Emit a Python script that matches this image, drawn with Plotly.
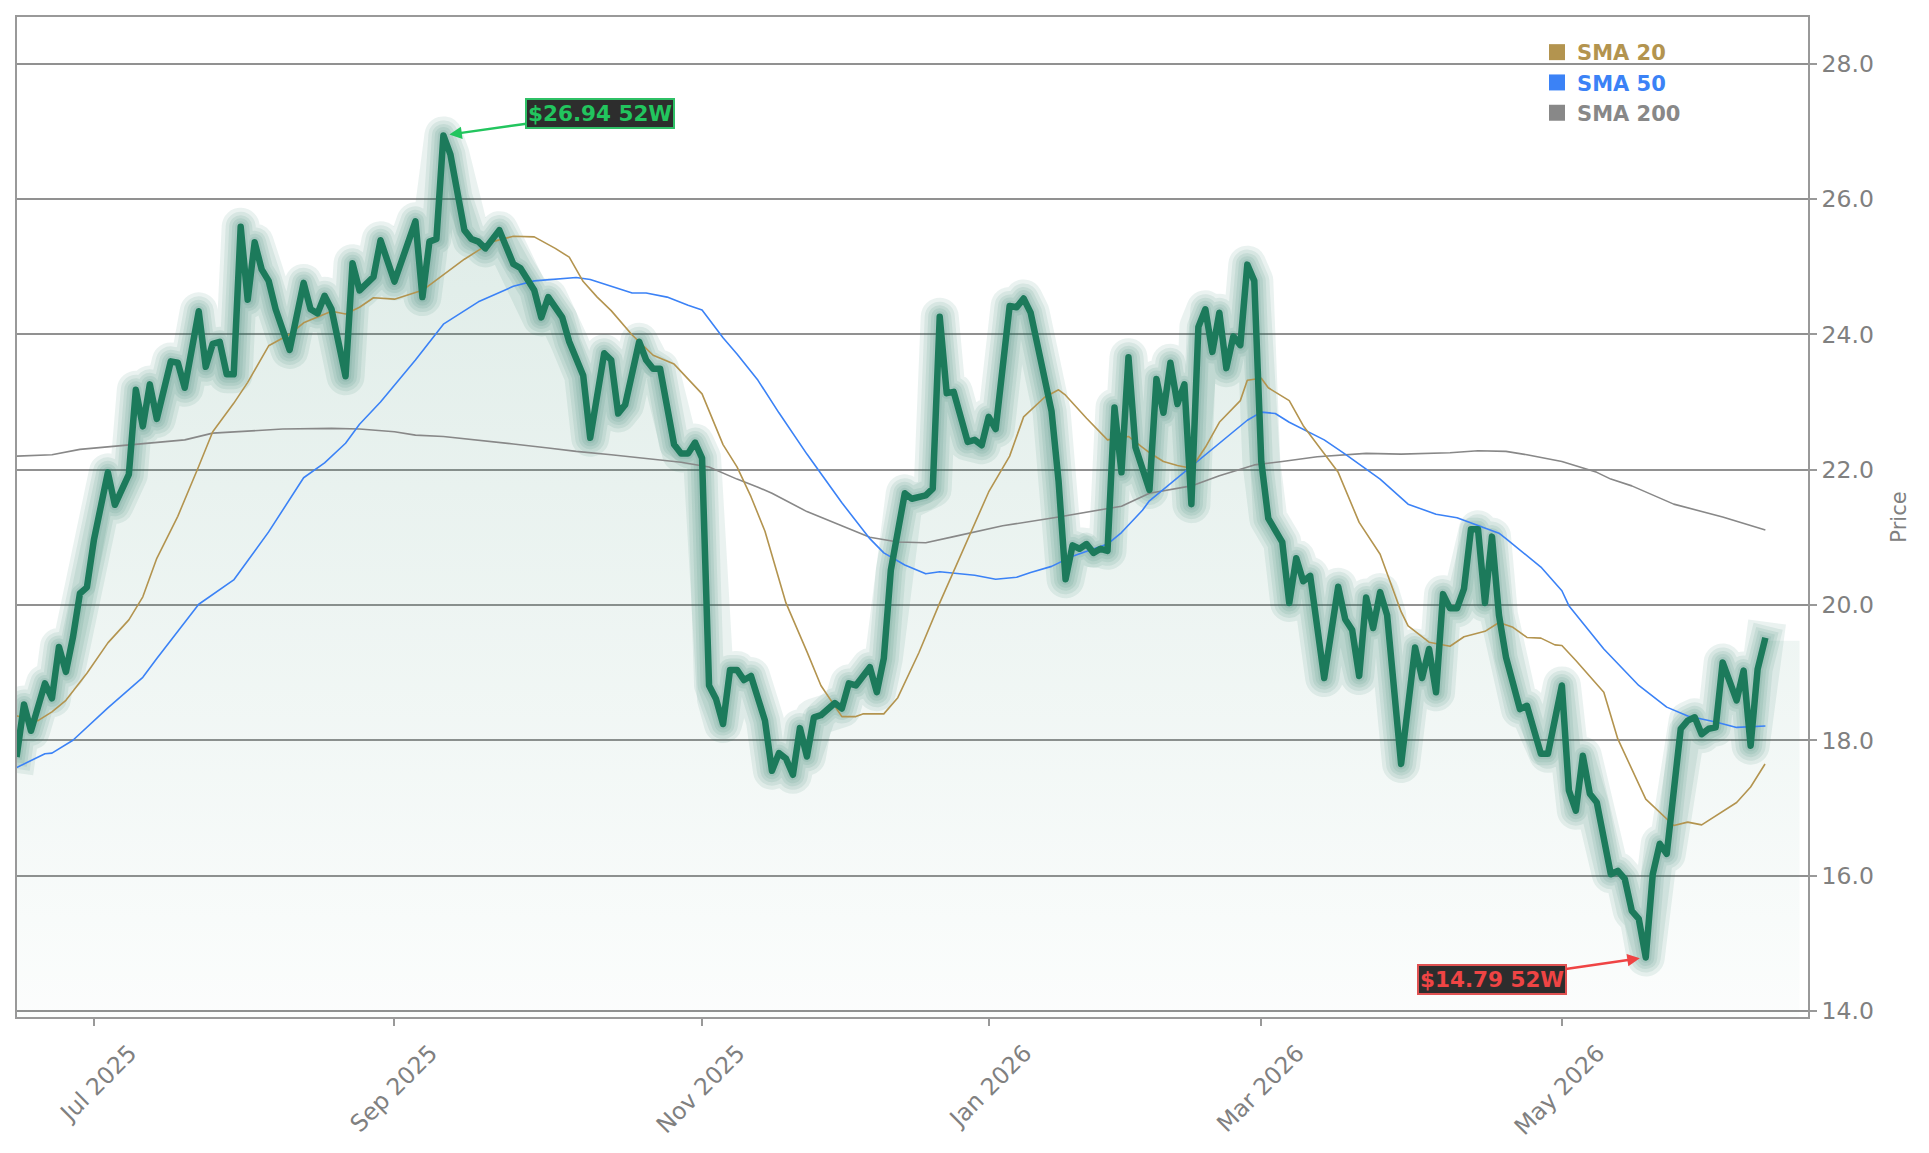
import pandas as pd
import plotly.graph_objects as go

# ---------------- trading calendar (NYSE sessions) ----------------
holidays = ["2025-06-19", "2025-07-04", "2025-09-01", "2025-11-27", "2025-12-25",
            "2026-01-01", "2026-01-19", "2026-02-16", "2026-04-03", "2026-05-25",
            "2026-06-19"]
sessions = pd.bdate_range("2025-06-13", "2026-06-30")
sessions = sessions[~sessions.isin(pd.to_datetime(holidays))]
base = sessions.get_loc(pd.Timestamp("2025-07-01"))

def to_dates(offsets):
    return [sessions[base + o] for o in offsets]

# ---------------- data (session offset from 2025-07-01) ----------------
price_sess = [-11, -10, -9, -7, -6, -5, -4, -3, -2, -1, 0, 2, 3, 5, 6, 7, 8, 9, 11, 12, 13, 15, 16, 17, 18,
              19, 20, 21, 22, 23, 24, 25, 26, 28, 30, 31, 32, 33, 34, 36, 37, 38, 40, 41, 43, 46, 47, 48,
              49, 50, 51, 52, 53, 54, 55, 56, 58, 60, 61, 63, 64, 65, 67, 68, 70, 71, 73, 74, 75, 76, 78,
              79, 80, 81, 83, 84, 85, 86, 87, 88, 89, 90, 91, 92, 93, 94, 96, 97, 98, 99, 100, 101, 102,
              103, 104, 106, 107, 108, 109, 111, 112, 113, 114, 116, 117, 119, 120, 121, 122, 123, 125,
              126, 127, 128, 129, 131, 132, 133, 134, 137, 138, 139, 140, 141, 142, 143, 144, 145, 146,
              147, 148, 149, 151, 152, 153, 154, 155, 156, 157, 158, 159, 160, 161, 162, 163, 164, 165,
              166, 167, 168, 170, 171, 172, 173, 174, 176, 178, 179, 180, 181, 182, 183, 184, 185, 187,
              189, 190, 191, 192, 193, 194, 195, 196, 197, 198, 199, 200, 201, 202, 204, 205, 207, 208,
              210, 211, 212, 213, 214, 215, 217, 218, 219, 220, 221, 222, 223, 224, 225, 226, 227, 228,
              229, 230, 231, 232, 233, 235, 236, 237, 238, 239]
price_val = [17.80, 18.53, 18.14, 18.84, 18.62, 19.38, 19.01, 19.52, 20.17, 20.26, 20.96, 21.96, 21.48,
             21.93, 23.18, 22.64, 23.26, 22.75, 23.60, 23.58, 23.21, 24.34, 23.52, 23.86, 23.89, 23.41,
             23.41, 25.59, 24.51, 25.36, 24.96, 24.79, 24.37, 23.77, 24.76, 24.37, 24.31, 24.57, 24.37,
             23.38, 25.05, 24.65, 24.85, 25.39, 24.78, 25.67, 24.55, 25.37, 25.41, 26.94, 26.66, 26.03,
             25.54, 25.41, 25.37, 25.27, 25.54, 25.04, 24.98, 24.65, 24.25, 24.55, 24.25, 23.89, 23.39,
             22.47, 23.72, 23.62, 22.83, 22.96, 23.89, 23.62, 23.49, 23.49, 22.37, 22.24, 22.24, 22.40,
             22.17, 18.81, 18.61, 18.24, 19.04, 19.04, 18.89, 18.95, 18.29, 17.55, 17.81, 17.73, 17.49,
             18.18, 17.76, 18.34, 18.37, 18.55, 18.47, 18.84, 18.81, 19.08, 18.71, 19.21, 20.51, 21.65,
             21.57, 21.62, 21.72, 24.26, 23.13, 23.15, 22.41, 22.44, 22.36, 22.78, 22.60, 24.42, 24.40,
             24.53, 24.32, 22.86, 21.83, 20.38, 20.88, 20.83, 20.90, 20.77, 20.83, 20.80, 22.92, 21.96,
             23.66, 22.33, 21.70, 23.34, 22.84, 23.58, 22.97, 23.26, 21.49, 24.11, 24.37, 23.74, 24.32,
             23.50, 23.97, 23.84, 25.03, 24.79, 22.12, 21.28, 20.93, 20.03, 20.69, 20.35, 20.43, 18.92,
             20.27, 19.79, 19.63, 18.95, 20.11, 19.66, 20.19, 19.85, 17.65, 19.37, 18.92, 19.35, 18.71,
             20.16, 19.95, 19.95, 20.24, 21.12, 21.12, 20.03, 21.01, 19.85, 19.23, 18.46, 18.51, 17.80,
             17.80, 18.81, 17.26, 16.96, 17.77, 17.21, 17.08, 16.02, 16.07, 15.95, 15.48, 15.36, 14.79,
             16.02, 16.47, 16.32, 17.23, 18.17, 18.29, 18.34, 18.09, 18.17, 18.19, 19.15, 18.59, 19.03,
             17.92, 19.05, 19.47]

sma20_sess = [-11, -8, -6, -4, -1, 2, 5, 7, 9, 12, 15, 17, 20, 22, 25, 28, 30, 34, 36, 38, 40, 43, 47, 50,
              53, 55, 57, 60, 63, 66, 68, 70, 72, 74, 77, 80, 83, 87, 90, 92, 94, 96, 99, 102, 104, 107,
              109, 110, 113, 115, 118, 121, 125, 128, 131, 133, 136, 138, 139, 142, 145, 147, 148, 150,
              151, 153, 155, 157, 159, 161, 164, 165, 167, 168, 171, 173, 176, 178, 181, 184, 187, 188,
              191, 194, 196, 199, 201, 203, 205, 207, 209, 210, 212, 216, 218, 222, 226, 228, 230, 235,
              237, 239]
sma20_val = [18.36, 18.29, 18.42, 18.59, 18.99, 19.44, 19.78, 20.12, 20.69, 21.31, 22.05, 22.56, 22.98,
             23.29, 23.83, 24.00, 24.17, 24.34, 24.30, 24.40, 24.54, 24.52, 24.65, 24.88, 25.11, 25.24,
             25.37, 25.45, 25.44, 25.27, 25.14, 24.78, 24.55, 24.35, 23.99, 23.69, 23.56, 23.12, 22.37,
             22.04, 21.60, 21.09, 20.03, 19.31, 18.81, 18.35, 18.35, 18.39, 18.39, 18.63, 19.29, 20.03,
             20.96, 21.67, 22.20, 22.78, 23.07, 23.18, 23.10, 22.76, 22.44, 22.47, 22.49, 22.33, 22.25,
             22.12, 22.06, 22.02, 22.33, 22.70, 23.02, 23.32, 23.35, 23.21, 23.02, 22.65, 22.23, 21.96,
             21.22, 20.75, 19.90, 19.69, 19.45, 19.39, 19.53, 19.61, 19.74, 19.67, 19.52, 19.51, 19.41,
             19.40, 19.18, 18.71, 18.02, 17.13, 16.74, 16.79, 16.75, 17.08, 17.31, 17.64]

sma50_sess = [-11, -7, -6, -3, 2, 7, 9, 15, 20, 25, 30, 33, 36, 38, 41, 46, 50, 55, 60, 63, 69, 71, 74, 77,
              79, 82, 85, 87, 90, 92, 95, 98, 102, 107, 111, 113, 116, 119, 121, 126, 129, 132, 134, 137,
              140, 145, 147, 150, 151, 156, 161, 165, 167, 169, 171, 176, 179, 184, 188, 192, 195, 198,
              201, 202, 207, 210, 211, 216, 221, 225, 228, 232, 235, 239]
sma50_val = [17.60, 17.80, 17.81, 18.00, 18.48, 18.93, 19.21, 20.01, 20.37, 21.08, 21.88, 22.10, 22.39,
             22.67, 23.00, 23.62, 24.15, 24.48, 24.71, 24.79, 24.84, 24.81, 24.71, 24.61, 24.61, 24.55,
             24.43, 24.36, 23.95, 23.71, 23.32, 22.84, 22.23, 21.51, 20.98, 20.77, 20.59, 20.46, 20.49,
             20.44, 20.38, 20.41, 20.48, 20.57, 20.72, 20.90, 21.07, 21.40, 21.54, 21.96, 22.39, 22.73,
             22.85, 22.83, 22.70, 22.44, 22.23, 21.86, 21.49, 21.34, 21.29, 21.17, 21.06, 20.98, 20.56,
             20.21, 19.99, 19.35, 18.81, 18.49, 18.36, 18.27, 18.19, 18.21]

sma200_sess = [-11, -6, -2, 3, 8, 13, 17, 22, 27, 34, 38, 43, 46, 50, 55, 60, 65, 69, 74, 79, 84, 88, 92,
               95, 97, 102, 107, 111, 115, 119, 123, 130, 138, 144, 147, 151, 157, 161, 166, 170, 175,
               182, 187, 194, 198, 202, 205, 210, 215, 217, 220, 226, 233, 239]
sma200_val = [22.20, 22.22, 22.30, 22.35, 22.39, 22.44, 22.54, 22.57, 22.60, 22.61, 22.60, 22.56, 22.51,
              22.49, 22.44, 22.38, 22.32, 22.27, 22.22, 22.17, 22.11, 22.04, 21.86, 21.74, 21.65, 21.38,
              21.17, 21.00, 20.93, 20.92, 21.01, 21.17, 21.30, 21.41, 21.46, 21.65, 21.76, 21.91, 22.07,
              22.12, 22.19, 22.24, 22.23, 22.25, 22.28, 22.27, 22.22, 22.12, 21.96, 21.86, 21.76, 21.49,
              21.30, 21.11]

tick_months = ["2025-07-01", "2025-09-01", "2025-11-01", "2026-01-01", "2026-03-01", "2026-05-01"]
fill_pad_sessions = 5   # the shaded area runs a few sessions past the last close

# ---------------- styles ----------------
GREEN = "#1c7a5b"
GOLD = "#b3944f"
BLUE = "#3b82f6"
GRAY200 = "#888888"
AXIS = "#999999"
TXT = "#808080"
FONT = "DejaVu Sans"

px_dates = to_dates(price_sess)
fig = go.Figure()

# gradient area under the price
fill_x = px_dates + to_dates([price_sess[-1] + fill_pad_sessions])
fill_y = price_val + [price_val[-1]]
fig.add_trace(go.Scatter(
    x=fill_x, y=fill_y, mode="lines", line=dict(width=0, color="rgba(0,0,0,0)"),
    fill="tozeroy",
    fillgradient=dict(type="vertical",
                      colorscale=[[0, "rgba(28,122,91,0.015)"], [1, "rgba(28,122,91,0.17)"]],
                      start=13.9, stop=28.7),
    showlegend=False, hoverinfo="skip"))

# glow layers
for w in [38, 30, 23, 17, 11]:
    fig.add_trace(go.Scatter(x=px_dates, y=price_val, mode="lines",
                             line=dict(color="rgba(28,122,91,0.095)", width=w),
                             showlegend=False, hoverinfo="skip"))

# moving averages
for sess, vals, col in [(sma200_sess, sma200_val, GRAY200),
                        (sma50_sess, sma50_val, BLUE),
                        (sma20_sess, sma20_val, GOLD)]:
    fig.add_trace(go.Scatter(x=to_dates(sess), y=vals, mode="lines",
                             line=dict(color=col, width=1.6), showlegend=False))

# price line
fig.add_trace(go.Scatter(x=px_dates, y=price_val, mode="lines",
                         line=dict(color=GREEN, width=6.5), showlegend=False, name="Price"))

# legend entries
for name, col in [("SMA 20", GOLD), ("SMA 50", BLUE), ("SMA 200", GRAY200)]:
    fig.add_trace(go.Scatter(x=[None], y=[None], mode="markers",
                             marker=dict(symbol="square", size=16, color=col),
                             name=f"<span style='color:{col}'><b>{name}</b></span>"))

# 52-week high / low annotations
hi = max(price_val)
lo = min(price_val)
hi_d = px_dates[price_val.index(hi)]
lo_d = px_dates[price_val.index(lo)]
fig.add_annotation(x=hi_d, y=hi, ax=157, ay=-22, text=f"<b>${hi:.2f} 52W</b>",
                   font=dict(family=FONT, size=21.5, color="#22c55e"),
                   bgcolor="#2d2d2d", bordercolor="#2fc066", borderwidth=2, borderpad=1,
                   showarrow=True, arrowhead=2, arrowsize=1, arrowwidth=2.5,
                   arrowcolor="#22c55e", standoff=6)
fig.add_annotation(x=lo_d, y=lo, ax=-154, ay=22, text=f"<b>${lo:.2f} 52W</b>",
                   font=dict(family=FONT, size=21.5, color="#ef4444"),
                   bgcolor="#2d2d2d", bordercolor="#e05252", borderwidth=2, borderpad=1,
                   showarrow=True, arrowhead=2, arrowsize=1, arrowwidth=2.5,
                   arrowcolor="#ef4444", standoff=6)

# tick positions: first trading session of each labelled month
tickvals = [sessions[sessions >= pd.Timestamp(m)][0] for m in tick_months]
ticktext = [pd.Timestamp(m).strftime("%b %Y") for m in tick_months]

fig.update_layout(
    width=1929, height=1153,
    margin=dict(l=17, r=121, t=17, b=134),
    paper_bgcolor="white", plot_bgcolor="white",
    font=dict(family=FONT, size=20, color=TXT),
    showlegend=True,
    legend=dict(x=0.8487, y=0.985, xanchor="left", yanchor="top",
                bgcolor="rgba(0,0,0,0)", font=dict(family=FONT, size=21),
                itemclick=False),
    xaxis=dict(
        rangebreaks=[dict(bounds=["sat", "mon"]), dict(values=holidays)],
        range=["2025-06-13", "2026-06-23 05:00"],
        tickvals=tickvals, ticktext=ticktext, tickangle=-45,
        ticklabelshift=36, ticklabelstandoff=4,
        ticks="outside", ticklen=7, tickwidth=1.5, tickcolor=AXIS,
        tickfont=dict(family=FONT, size=23.5, color=TXT),
        showgrid=False, zeroline=False,
        showline=True, linecolor=AXIS, linewidth=1.8, mirror=True),
    yaxis=dict(
        side="right", range=[13.91, 28.69], tick0=14, dtick=2, tickformat=".1f",
        ticks="outside", ticklen=7, tickwidth=1.5, tickcolor=AXIS,
        tickfont=dict(family=FONT, size=23.5, color=TXT),
        showgrid=True, gridcolor="#919191", gridwidth=1.6, zeroline=False,
        showline=True, linecolor=AXIS, linewidth=1.8, mirror=True,
        title=dict(text="Price", font=dict(family=FONT, size=21, color=TXT), standoff=18)),
)

# matplotlib-like round joins for the thick lines
js = """
var gd = document.getElementById('{plot_id}');
gd.querySelectorAll('.scatterlayer .js-line').forEach(function(p){
  p.style.strokeLinejoin = 'round';
  p.style.strokeLinecap = 'square';
});
"""
fig.write_html("out.html", post_script=js)
